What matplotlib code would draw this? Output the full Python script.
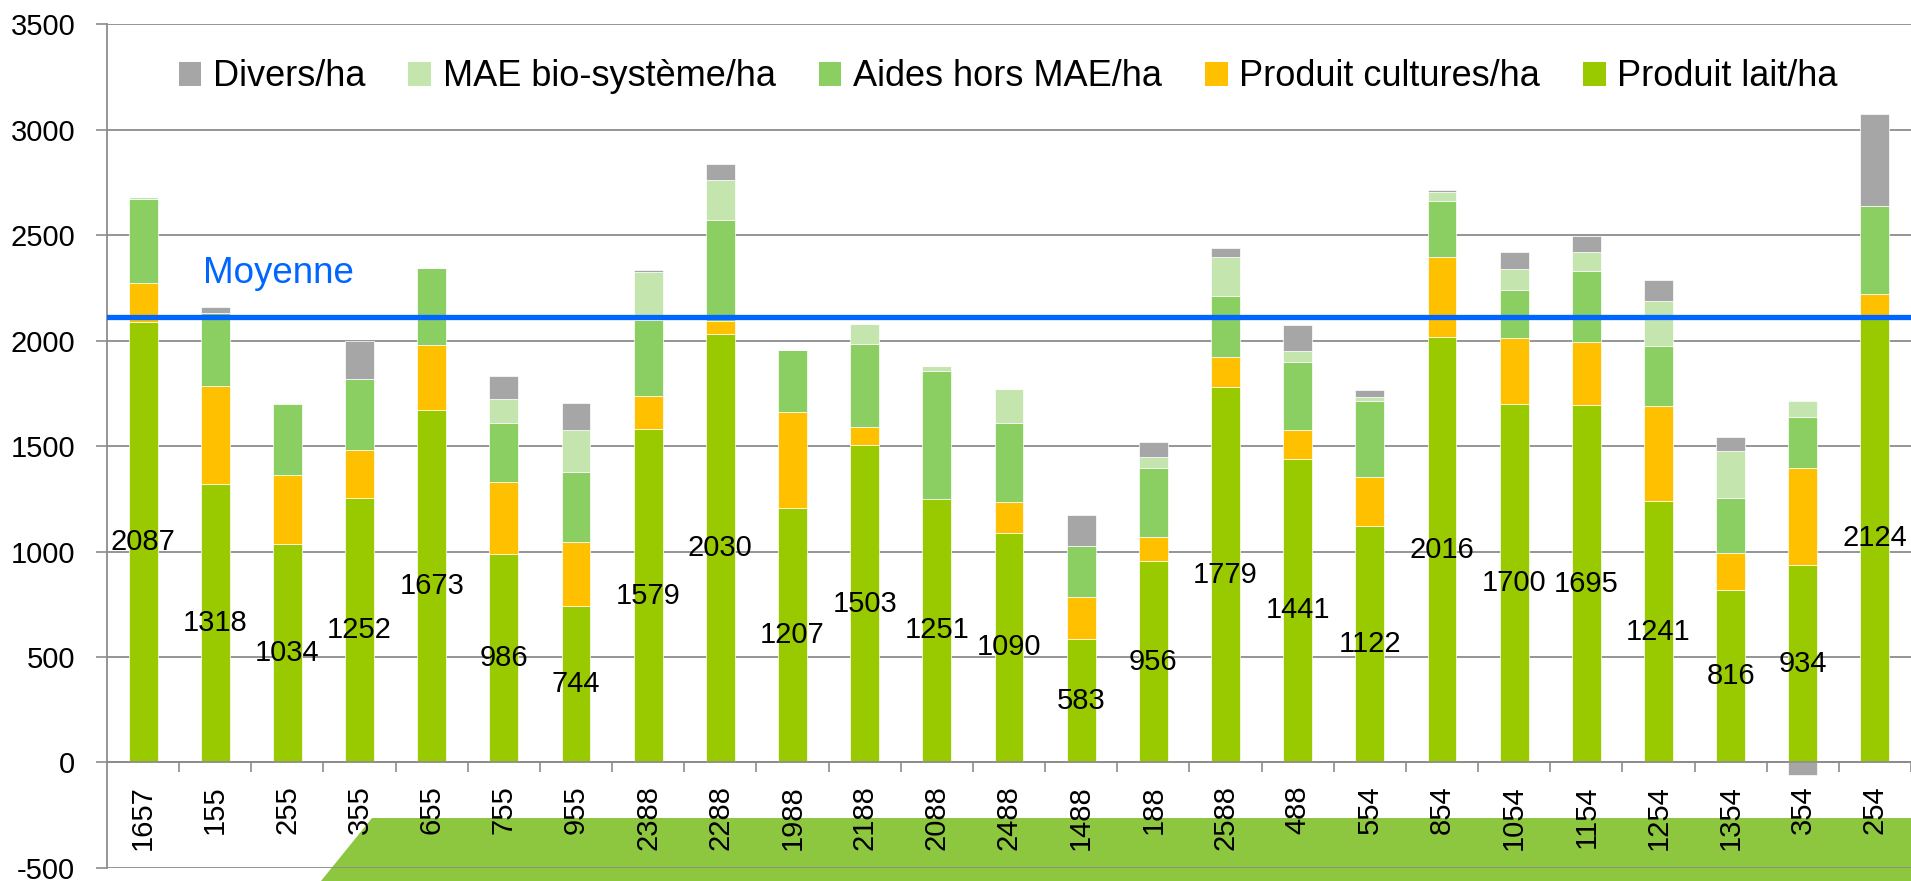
import matplotlib
matplotlib.use('Agg')
import matplotlib.pyplot as plt
from matplotlib.patches import Patch, Polygon
import numpy as np

plt.rcParams['font.family'] = ['Liberation Sans', 'DejaVu Sans']
plt.rcParams['axes.unicode_minus'] = False

categories = ['1657', '155', '255', '355', '655', '755', '955', '2388', '2288', '1988',
              '2188', '2088', '2488', '1488', '188', '2588', '488', '554', '854', '1054',
              '1154', '1254', '1354', '354', '254']
produit_lait = [2087, 1318, 1034, 1252, 1673, 986, 744, 1579, 2030, 1207, 1503, 1251, 1090,
                583, 956, 1779, 1441, 1122, 2016, 1700, 1695, 1241, 816, 934, 2124]
produit_cultures = [188, 465, 329, 229, 306, 342, 302, 158, 65, 453, 86, 0, 143,
                    203, 114, 145, 135, 230, 381, 311, 300, 449, 175, 462, 97]
aides_hors_mae = [397, 350, 335, 335, 364, 283, 330, 363, 477, 294, 393, 606, 378,
                  242, 326, 289, 323, 362, 266, 229, 337, 284, 261, 242, 417]
mae_bio = [8, 0, 5, 0, 3, 112, 202, 227, 190, 3, 97, 23, 158,
           0, 54, 185, 52, 20, 40, 100, 90, 215, 226, 76, 0]
divers = [0, 25, 0, 184, 0, 109, 125, 6, 74, 0, 0, 0, 0,
          144, 69, 40, 122, 30, 12, 79, 73, 98, 63, -62, 435]
moyenne = 2113

series = [
    ('Produit lait/ha', produit_lait, '#99CA00'),
    ('Produit cultures/ha', produit_cultures, '#FFC000'),
    ('Aides hors MAE/ha', aides_hors_mae, '#8BCE62'),
    ('MAE bio-système/ha', mae_bio, '#C4E5AE'),
    ('Divers/ha', divers, '#A6A6A6'),
]
legend_order = ['Divers/ha', 'MAE bio-système/ha', 'Aides hors MAE/ha',
                'Produit cultures/ha', 'Produit lait/ha']

W, H = 1911, 881
fig = plt.figure(figsize=(W / 100, H / 100), dpi=100)
fig.patch.set_facecolor('white')

# decorative banner behind the chart
banner = Polygon([(372 / W, 1 - 817.7 / H), (1.0, 1 - 817.7 / H), (1.0, 0.0), (320.5 / W, 0.0)],
                 closed=True, transform=fig.transFigure, facecolor='#8DC63F',
                 edgecolor='none', zorder=-1)
fig.patches.append(banner)

left = 107 / W
bottom = (H - 867.8) / H
top = (H - 24.4) / H
ax = fig.add_axes([left, bottom, 1 - left, top - bottom])
ax.set_facecolor('none')
ax.set_xlim(-0.5, len(categories) - 0.5)
ax.set_ylim(-500, 3500)

x = np.arange(len(categories))
pos_base = np.zeros(len(categories))
neg_base = np.zeros(len(categories))
handles = {}
for name, vals, col in series:
    v = np.array(vals, dtype=float)
    b = np.where(v >= 0, pos_base, neg_base)
    ax.bar(x, v, 0.40, bottom=b, color=col, edgecolor='white', linewidth=0.5, zorder=2)
    handles[name] = Patch(facecolor=col, edgecolor='none')
    pos_base = pos_base + np.where(v >= 0, v, 0)
    neg_base = neg_base + np.where(v < 0, v, 0)

for xi, v in zip(x, produit_lait):
    ax.text(xi, v / 2, str(v), ha='center', va='center', fontsize=21, color='black',
            zorder=5)

ax.axhline(moyenne, color='#0066FF', lw=3.8, zorder=4)
ax.text(0.83, 2274, 'Moyenne', color='#0066FF', fontsize=26.5, ha='left',
        va='baseline', zorder=5)

gray = '#8C8C8C'
ax.set_axisbelow(True)
ax.yaxis.grid(True, color=gray, lw=1.3)
ax.set_yticks(range(-500, 3501, 500))
ax.tick_params(axis='y', length=7.8, width=1.2, color=gray, pad=15, labelsize=21,
               direction='out')

for s in ['top', 'right']:
    ax.spines[s].set_visible(False)
ax.spines['left'].set_color(gray)
ax.spines['left'].set_linewidth(1.3)
ax.spines['bottom'].set_position(('data', 0))
ax.spines['bottom'].set_color(gray)
ax.spines['bottom'].set_linewidth(1.3)

ax.set_xticks(x)
ax.set_xticklabels(categories, rotation=90)
ax.set_xticks(np.arange(0.5, len(categories) - 0.4, 1), minor=True)
ax.tick_params(axis='x', which='major', length=0, pad=16.5, labelsize=21)
ax.tick_params(axis='x', which='minor', length=7.2, width=1.2, color=gray,
               direction='out')

ax.legend([handles[n] for n in legend_order], legend_order, ncol=5, frameon=False,
          loc='center left', bbox_to_anchor=(178.6 / W, 1 - 77 / H),
          bbox_transform=fig.transFigure, fontsize=26, handlelength=0.63,
          handleheight=0.63, handletextpad=0.32, columnspacing=1.19,
          borderpad=0, borderaxespad=0)

fig.savefig('out.png', dpi=100)
